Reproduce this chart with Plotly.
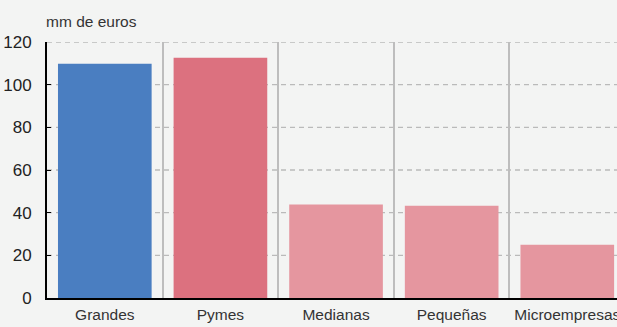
import plotly.graph_objects as go

categorias = ["Grandes", "Pymes", "Medianas", "Pequeñas", "Microempresas"]
valores = [109.8, 112.6, 43.8, 43.3, 25.0]
colores = ["#4a7ec1", "#dc717f", "#e5969f", "#e5969f", "#e5969f"]
ticks_y = [0, 20, 40, 60, 80, 100, 120]

fig = go.Figure()
fig.add_trace(go.Bar(x=categorias, y=valores, marker=dict(color=colores, line=dict(width=0)),
                     hoverinfo="x+y"))

# rejilla horizontal discontinua
for t in ticks_y[1:]:
    fig.add_shape(type="line", xref="paper", yref="y", x0=0, x1=1, y0=t, y1=t,
                  line=dict(color="#bababa", width=1.3, dash="5px,4px"), layer="below")

fig.update_layout(
    width=617, height=327,
    margin=dict(l=47, r=0, t=42, b=29),
    paper_bgcolor="#f3f4f3", plot_bgcolor="#f3f4f3",
    font=dict(family="Liberation Sans, Arial, sans-serif", color="#333333"),
    bargap=0.19,
    showlegend=False,
    annotations=[dict(text="mm de euros", x=0, y=1, xref="paper", yref="paper",
                      xanchor="left", yanchor="bottom", yshift=10, xshift=-3, showarrow=False,
                      font=dict(size=15.5, color="#333333"))],
)
fig.update_xaxes(
    type="category", range=[-0.5, 4.43], tickson="boundaries", automargin=False,
    showgrid=True, gridcolor="#bdbdbd", gridwidth=1.5,
    showline=True, linecolor="#000000", linewidth=2,
    ticks="", tickfont=dict(size=15.5, color="#333333"), ticklabelstandoff=1,
)
fig.update_yaxes(
    range=[0, 120], tickvals=ticks_y, automargin=False,
    showgrid=False,
    showline=True, linecolor="#000000", linewidth=2,
    ticks="inside", ticklen=4, tickcolor="#000000",
    tickfont=dict(size=17, color="#222222"), ticklabelstandoff=10,
    zeroline=False,
)

fig.write_html("out.html", config=dict(displayModeBar=False),
               post_script="document.body.style.margin='0';document.body.style.overflow='hidden';")
